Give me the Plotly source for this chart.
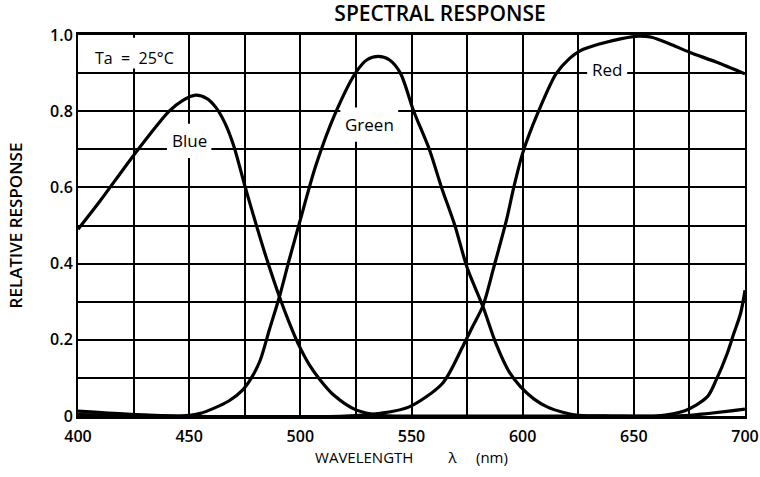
import plotly.graph_objects as go

# ---- data ----
blue_wl = [400, 410, 425, 441, 447, 453, 458, 462, 466, 470, 475, 480, 485, 490.6, 495, 499, 504, 509, 515, 525, 536, 560, 600, 640, 673, 700]
blue_val = [0.49, 0.565, 0.684, 0.80, 0.828, 0.842, 0.833, 0.81, 0.77, 0.71, 0.605, 0.505, 0.41, 0.313, 0.245, 0.19, 0.135, 0.094, 0.055, 0.016, 0.002, 0.0, 0.0, 0.0, 0.001, 0.018]

green_wl = [400, 430, 446, 455, 461, 468, 474, 478, 482, 486, 490.6, 495, 500, 507, 516, 525, 530, 535, 540, 545, 551, 558, 563.5, 569.5, 575, 582.2, 588, 594, 599, 605, 611, 618, 625, 640, 660, 673, 683, 687, 692, 695, 698, 700]
green_val = [0.004, 0.002, 0.0, 0.007, 0.02, 0.04, 0.068, 0.10, 0.147, 0.225, 0.313, 0.41, 0.515, 0.658, 0.798, 0.902, 0.935, 0.944, 0.935, 0.90, 0.80, 0.70, 0.60, 0.50, 0.39, 0.286, 0.19, 0.115, 0.077, 0.045, 0.024, 0.01, 0.002, 0.0, 0.0, 0.014, 0.05, 0.094, 0.164, 0.217, 0.269, 0.33]

red_wl = [400, 422, 445, 520, 536, 549, 564, 573, 577.5, 582.2, 587, 592.7, 596, 600, 607, 615, 621, 626, 635, 644, 652, 658, 666, 675, 687, 700]
red_val = [0.013, 0.005, 0.0, 0.0, 0.007, 0.024, 0.086, 0.182, 0.235, 0.29, 0.39, 0.514, 0.60, 0.69, 0.798, 0.898, 0.938, 0.959, 0.977, 0.99, 0.997, 0.994, 0.977, 0.955, 0.929, 0.898]

x_ticks = [400, 425, 450, 475, 500, 525, 550, 575, 600, 625, 650, 675, 700]
x_ticktext = ["400", "", "450", "", "500", "", "550", "", "600", "", "650", "", "700"]
y_ticks = [0, 0.1, 0.2, 0.3, 0.4, 0.5, 0.6, 0.7, 0.8, 0.9, 1.0]
y_ticktext = ["0", "", "0.2", "", "0.4", "", "0.6", "", "0.8", "", "1.0"]

# curve labels: (text, wavelength, response, half-width nm, half-height)
labels = [
    ("Blue", 450, 0.722, 10, 0.045),
    ("Green", 531, 0.765, 13, 0.045),
    ("Red", 638, 0.91, 9, 0.02),
]

FONT = "Open Sans, Noto Sans, sans-serif"
NB = "\u00a0"

fig = go.Figure()
for wl, val, name in [(blue_wl, blue_val, "Blue"), (green_wl, green_val, "Green"), (red_wl, red_val, "Red")]:
    fig.add_trace(go.Scatter(x=wl, y=val, mode="lines", name=name,
                             line=dict(color="black", width=3.2, shape="spline", smoothing=0.8),
                             hoverinfo="x+y+name"))

# white gaps in the grid behind labels
for text, lx, ly, hw, hh in labels:
    fig.add_shape(type="rect", xref="x", yref="y", x0=lx - hw, x1=lx + hw, y0=ly - hh, y1=ly + hh,
                  fillcolor="white", line=dict(width=0), layer="between")
    fig.add_annotation(x=lx, y=ly, text=text, showarrow=False,
                       font=dict(family=FONT, size=17, color="black", weight=500))

fig.add_shape(type="rect", xref="x", yref="y", x0=403, x1=446, y0=0.912, y1=0.993,
              fillcolor="white", line=dict(width=0), layer="between")
fig.add_annotation(x=425.5, y=0.94, text=f"Ta{NB}{NB}={NB}{NB}25°C", showarrow=False,
                   font=dict(family=FONT, size=16, color="black", weight=500))

fig.update_layout(
    width=760, height=477,
    margin=dict(l=78, r=15, t=35, b=61, autoexpand=False),
    paper_bgcolor="white", plot_bgcolor="white",
    showlegend=False,
    title=dict(text="SPECTRAL RESPONSE", x=0.579, xanchor="center", xref="container",
               y=0.972, yanchor="middle", yref="container",
               font=dict(family=FONT, size=21, color="black", weight=600)),
    font=dict(family=FONT, color="black"),
)
fig.update_xaxes(range=[400, 700], tickvals=x_ticks, ticktext=x_ticktext,
                 showgrid=True, gridcolor="black", gridwidth=1.5,
                 showline=True, linecolor="black", linewidth=2.5, mirror=True,
                 ticks="", ticklabelstandoff=4, zeroline=False, automargin=False,
                 tickfont=dict(family=FONT, size=16, color="black", weight=600),
                 title=dict(text="WAVELENGTH" + NB * 9 + "λ" + NB * 5 + "(nm)", standoff=2,
                            font=dict(family=FONT, size=15, color="black", weight=500)))
fig.update_yaxes(range=[0, 1.0], tickvals=y_ticks, ticktext=y_ticktext,
                 showgrid=True, gridcolor="black", gridwidth=1.5,
                 showline=True, linecolor="black", linewidth=2, mirror=True,
                 ticks="", zeroline=False, automargin=False,
                 tickfont=dict(family=FONT, size=16, color="black", weight=600),
                 title=dict(text="RELATIVE RESPONSE", standoff=23,
                            font=dict(family=FONT, size=17, color="black", weight=600)))

# remove the browser's default 8px body margin so the 760x477 figure fills the window
fig.write_html("out.html", config={"displayModeBar": False},
               post_script="document.body.style.margin='0';document.body.style.overflow='hidden';")
